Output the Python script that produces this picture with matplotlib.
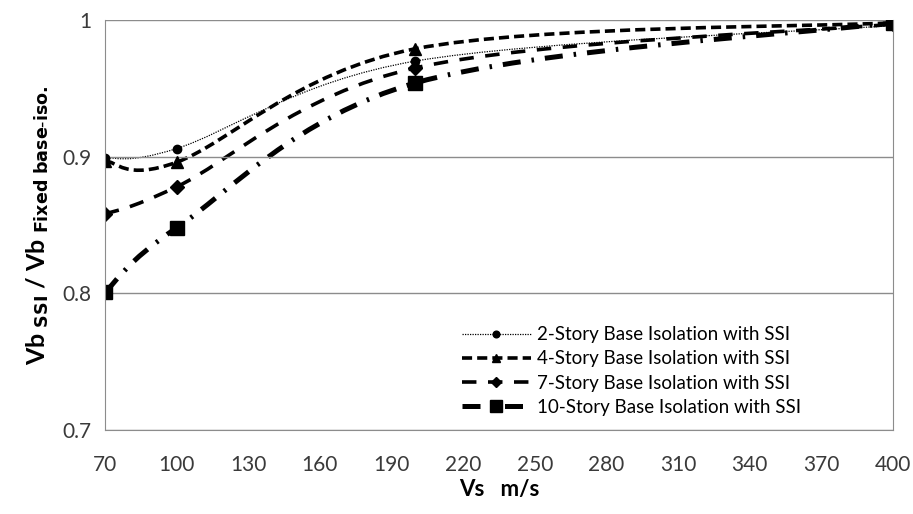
import numpy as np
import matplotlib as mpl
mpl.rcParams.update({'font.family': ['Lato', 'DejaVu Sans'],
                     'mathtext.default': 'regular'})
import matplotlib.pyplot as plt
from matplotlib.path import Path
from matplotlib.patches import PathPatch
from matplotlib.lines import Line2D

#%% Data
vs = [70, 100, 200, 400]
story2 = [0.899, 0.906, 0.970, 0.996]
story4 = [0.897, 0.896, 0.979, 0.998]
story7 = [0.858, 0.878, 0.965, 0.997]
story10 = [0.801, 0.848, 0.954, 0.998]

labels = ['2-Story Base Isolation with SSI', '4-Story Base Isolation with SSI',
          '7-Story Base Isolation with SSI', '10-Story Base Isolation with SSI']
xticks = np.arange(70, 401, 30)
yticks = [0.7, 0.8, 0.9, 1.0]
yticklabels = ['0.7', '0.8', '0.9', '1']


def smooth_path(x, y):
    """Excel-like smoothed line: Catmull-Rom as cubic Bezier segments"""
    p = np.column_stack([x, y]).astype(float)
    verts = [p[0]]
    codes = [Path.MOVETO]
    n = len(p)
    for i in range(n - 1):
        p_prev = p[i - 1] if i > 0 else p[i]
        p_next = p[i + 2] if i + 2 < n else p[i + 1]
        c1 = p[i] + (p[i + 1] - p_prev) / 6
        c2 = p[i + 1] - (p_next - p[i]) / 6
        verts += [c1, c2, p[i + 1]]
        codes += [Path.CURVE4] * 3
    return Path(verts, codes)


styles = [
    dict(ls=(0, (1, 1)), lw=0.9, marker='o', ms=6),
    dict(ls=(0, (2.8, 1.4)), lw=2.6, marker='^', ms=8),
    dict(ls=(0, (4, 3.2)), lw=2.6, marker='D', ms=7),
    dict(ls=(0, (3.6, 2.2, 0.5, 2.2)), lw=3.6, marker='s', ms=10),
]

fig = plt.figure(figsize=(9.13, 5.14), dpi=100)
ax = fig.add_axes([0.115, 0.163, 0.863, 0.798])

handles = []
for yv, st, lab in zip([story2, story4, story7, story10], styles, labels):
    patch = PathPatch(smooth_path(vs, yv), facecolor='none', edgecolor='black',
                      linewidth=st['lw'], linestyle=st['ls'], capstyle='butt')
    ax.add_patch(patch)
    ax.plot(vs, yv, linestyle='none', marker=st['marker'], markersize=st['ms'],
            color='black')
    handles.append(Line2D([], [], color='black', linewidth=st['lw'],
                          linestyle=st['ls'], marker=st['marker'],
                          markersize=st['ms'] * 0.8, label=lab))

ax.set_xlim(70, 400)
ax.set_ylim(0.7, 1.0)
ax.set_xticks(xticks)
ax.set_yticks(yticks)
ax.set_yticklabels(yticklabels)
ax.tick_params(axis='both', length=0, labelsize=15, colors='#3a3a3a')
ax.tick_params(axis='x', pad=18)
ax.tick_params(axis='y', pad=10)
ax.grid(axis='y', color='#8c8c8c', linewidth=1.0)
for s in ['left', 'bottom', 'right']:
    ax.spines[s].set_color('#8c8c8c')
ax.spines['top'].set_visible(False)

ax.set_xlabel('Vs   m/s', fontsize=16, fontweight='bold', labelpad=3)
ax.set_ylabel(r'Vb $_{\mathbf{SSI}}$ / Vb $_{\mathbf{Fixed\ base\text{-}iso.}}$',
              fontsize=18, fontweight='bold', labelpad=8)

ax.legend(handles=handles, loc='upper left', bbox_to_anchor=(0.487, 0.398),
          bbox_transform=fig.transFigure, frameon=False, fontsize=13.5,
          handlelength=3.7, handletextpad=0.35, labelspacing=0.38)

plt.savefig('out.png', dpi=100)
